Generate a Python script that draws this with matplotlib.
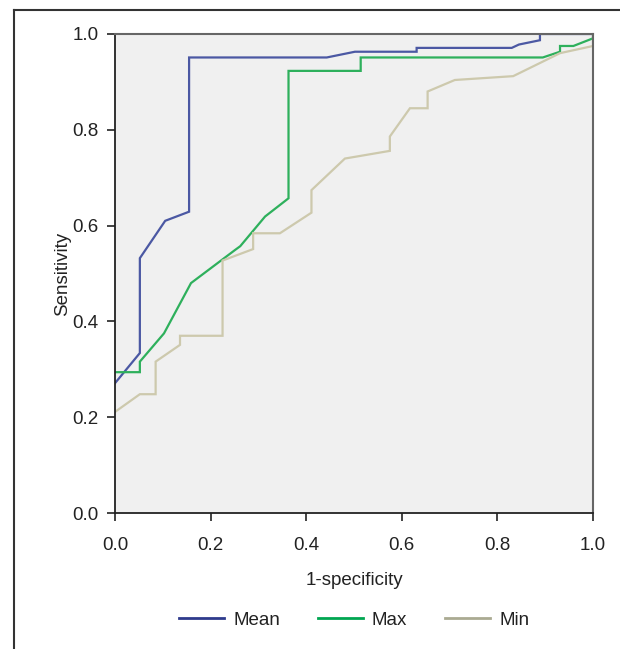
import matplotlib
matplotlib.use("Agg")
import matplotlib.pyplot as plt
from matplotlib.lines import Line2D

plt.rcParams['font.family'] = ['Liberation Sans Narrow', 'Liberation Sans', 'DejaVu Sans']

mean_x = [0.0, 0.052, 0.052, 0.105, 0.155, 0.155, 0.443, 0.502, 0.631, 0.631, 0.83, 0.845, 0.889, 0.889, 1.0]
mean_y = [0.271, 0.334, 0.532, 0.61, 0.629, 0.951, 0.951, 0.963, 0.963, 0.971, 0.971, 0.978, 0.987, 1.0, 1.0]

max_x = [0.0, 0.052, 0.052, 0.1025, 0.159, 0.251, 0.262, 0.314, 0.363, 0.363, 0.514, 0.514, 0.895, 0.931, 0.931, 0.959, 1.0, 1.0]
max_y = [0.294, 0.294, 0.316, 0.375, 0.48, 0.549, 0.557, 0.619, 0.657, 0.923, 0.923, 0.951, 0.951, 0.963, 0.975, 0.975, 0.991, 1.0]

min_x = [0.0, 0.052, 0.085, 0.085, 0.136, 0.136, 0.225, 0.225, 0.289, 0.289, 0.345, 0.411, 0.411, 0.481,
         0.575, 0.575, 0.617, 0.654, 0.654, 0.711, 0.833, 0.931, 1.0, 1.0]
min_y = [0.211, 0.248, 0.248, 0.316, 0.351, 0.370, 0.370, 0.527, 0.551, 0.584, 0.584, 0.627, 0.674, 0.74,
         0.756, 0.786, 0.845, 0.845, 0.88, 0.904, 0.912, 0.96, 0.975, 1.0]

series = [("Mean", mean_x, mean_y, "#4b58a3", "#2e3a8c"),
          ("Max", max_x, max_y, "#2eb05c", "#00a651"),
          ("Min", min_x, min_y, "#cdc9ad", "#aaaa92")]

xticks = [0.0, 0.2, 0.4, 0.6, 0.8, 1.0]
yticks = [0.0, 0.2, 0.4, 0.6, 0.8, 1.0]

FS = 13.5
W, H = 620, 649
fig = plt.figure(figsize=(W / 100, H / 100), dpi=100)
ax = fig.add_axes([115 / W, 1 - 513 / H, (593 - 115) / W, (513 - 34) / H])
ax.set_facecolor("#f0f0f0")

for name, xs, ys, c, lc in series:
    ax.plot(xs, ys, color=c, lw=1.6, label=name, solid_joinstyle="miter")

ax.set_xlim(0, 1)
ax.set_ylim(0, 1)
ax.set_xticks(xticks)
ax.set_yticks(yticks)
ax.set_xticklabels([f"{t:.1f}" for t in xticks])
ax.set_yticklabels([f"{t:.1f}" for t in yticks])
ax.tick_params(direction="out", length=6, width=1.2, color="#222222", labelsize=FS,
               labelcolor="#222222")
ax.tick_params(axis="x", pad=11)
ax.tick_params(axis="y", pad=6)
for s in ["left", "bottom"]:
    ax.spines[s].set_color("#222222")
    ax.spines[s].set_linewidth(1.3)
for s in ["top", "right"]:
    ax.spines[s].set_color("#666666")
    ax.spines[s].set_linewidth(1.5)

ax.set_xlabel("1-specificity", fontsize=FS, color="#222222", labelpad=13)
ax.set_ylabel("Sensitivity", fontsize=FS, color="#222222", labelpad=1)

leg = ax.legend(loc="center", bbox_to_anchor=(0.5, -(620 - 513) / (513 - 34)), ncol=3, frameon=False,
                fontsize=FS, handlelength=2.4, columnspacing=2.0, handletextpad=0.5)
for line, (_, _, _, _, lc) in zip(leg.get_lines(), series):
    line.set_linewidth(2)
    line.set_color(lc)
for t in leg.get_texts():
    t.set_color("#222222")

# outer frame (left and top edges)
fig.add_artist(Line2D([14 / W, 14 / W], [0, 1 - 10 / H], transform=fig.transFigure,
                      color="#333333", lw=1.5))
fig.add_artist(Line2D([14 / W, 1], [1 - 10 / H, 1 - 10 / H], transform=fig.transFigure,
                      color="#333333", lw=1.5))

fig.savefig("out.png", dpi=100)
